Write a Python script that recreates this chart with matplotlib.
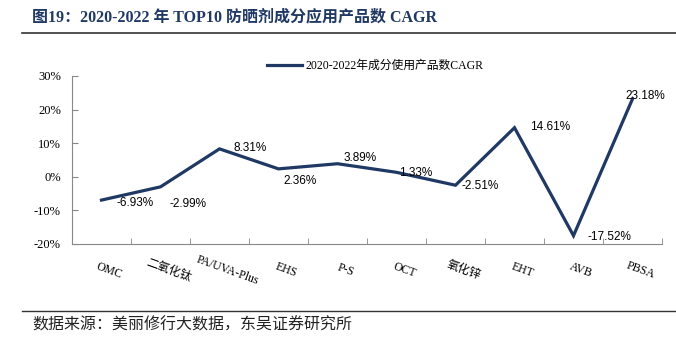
import matplotlib
matplotlib.use("Agg")
from matplotlib import pyplot as plt
from matplotlib import transforms
import numpy as np

categories = ['OMC', '二氧化钛', 'PA/UVA-Plus', 'EHS', 'P-S', 'OCT', '氧化锌', 'EHT', 'AVB', 'PBSA']
cagr = [-6.93, -2.99, 8.31, 2.36, 3.89, 1.33, -2.51, 14.61, -17.52, 23.18]
yticks = [-20, -10, 0, 10, 20, 30]

# label offsets in pixels (dx, dy)
label_offsets = [(34, -3), (27, -17), (31, 1), (22, -12), (23, 6),
                 (19, -1), (25, -1), (36, 1), (36, -1), (13, 3)]

serif = ['Liberation Serif', 'Noto Sans CJK SC']
navy = '#1F3864'

fig = plt.figure(figsize=(6.76, 3.44), dpi=100)
ax = fig.add_axes([72/676, 1-244/344, 590/676, 168/344])

x = np.arange(len(categories))
ax.plot(x, cagr, color=navy, lw=2.3, solid_joinstyle='miter',
        label='2020-2022年成分使用产品数CAGR')

for xi, v, (dx, dy) in zip(x, cagr, label_offsets):
    ax.annotate(f'{v:.2f}%', (xi, v), xytext=(dx, dy), textcoords='offset pixels',
                ha='center', va='center', fontsize=8.5, family='Liberation Sans')

ax.set_xlim(-0.5, len(categories) - 0.5)
ax.set_ylim(-20, 30)
ax.set_yticks(yticks)
ax.set_yticklabels([f'{t}%' for t in yticks], family=serif, fontsize=9)
ax.set_xticks(np.arange(len(categories) + 1) - 0.5, minor=True)
ax.set_xticks(x)
ax.tick_params(axis='x', which='major', length=0, pad=15)
ax.tick_params(axis='x', which='minor', direction='in', length=4, color='#888888')
ax.tick_params(axis='y', direction='in', length=4, color='#888888', pad=8)
ax.set_xticklabels(categories, family=serif, fontsize=8.5, rotation=-20,
                   ha='center', rotation_mode='anchor')
shift = transforms.ScaledTranslation(10/100, 0, fig.dpi_scale_trans)
for lab in ax.get_xticklabels():
    lab.set_transform(lab.get_transform() + shift)

for s in ['top', 'right']:
    ax.spines[s].set_visible(False)
for s in ['left', 'bottom']:
    ax.spines[s].set_color('#888888')
    ax.spines[s].set_linewidth(0.8)

leg = fig.legend(loc='center left', bbox_to_anchor=(262/676, 1-66/344), frameon=False,
                 prop={'family': serif, 'size': 8.5}, handlelength=3.0, handletextpad=0.3,
                 borderaxespad=0)

fig.text(32/676, 1-17/344, '图19：2020-2022 年 TOP10 防晒剂成分应用产品数 CAGR',
         family=serif, fontsize=11.5, fontweight='bold', color=navy, va='center')
fig.add_artist(plt.Line2D([22/676, 1], [1-33/344, 1-33/344], color='#333333', lw=1.2))
fig.add_artist(plt.Line2D([22/676, 1], [1-311/344, 1-311/344], color='#333333', lw=1.0))
fig.text(32/676, 1-326/344, '数据来源：美丽修行大数据，东吴证券研究所',
         family=serif, fontsize=11.5, color='#222222', va='center')

fig.savefig('out.png', dpi=100)
